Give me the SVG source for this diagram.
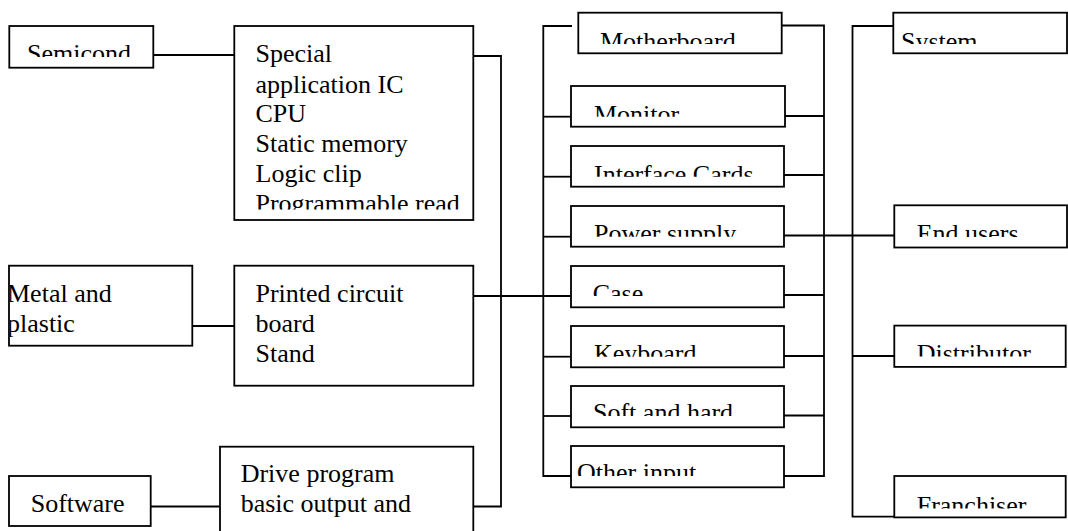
<svg xmlns="http://www.w3.org/2000/svg" width="1068" height="531" viewBox="0 0 1068 531">
<style>
  .box { fill: #fff; stroke: #000; stroke-width: 1.8; }
  .conn { fill: none; stroke: #000; stroke-width: 1.8; }
  text { font-family: "Liberation Serif", "Times New Roman", serif; font-size: 26px; fill: #000; }
</style>
<defs>
  <clipPath id="cSemi"><rect x="9" y="26" width="144" height="31"/></clipPath>
  <clipPath id="cSpec"><rect x="235" y="27" width="238" height="182.5"/></clipPath>
  <clipPath id="cMetal"><rect x="10" y="267" width="182" height="78"/></clipPath>
  <clipPath id="cPcb"><rect x="235" y="267" width="238" height="108"/></clipPath>
  <clipPath id="cSoft"><rect x="10" y="477" width="140" height="48"/></clipPath>
  <clipPath id="cDrive"><rect x="221" y="448" width="252" height="77"/></clipPath>
  <clipPath id="cMb"><rect x="579" y="13" width="202" height="31"/></clipPath>
  <clipPath id="cMon"><rect x="572" y="87" width="212" height="29.7"/></clipPath>
  <clipPath id="cInt"><rect x="572" y="147" width="211" height="29.7"/></clipPath>
  <clipPath id="cPow"><rect x="572" y="207" width="211" height="29.7"/></clipPath>
  <clipPath id="cCase"><rect x="572" y="267" width="211" height="29"/></clipPath>
  <clipPath id="cKey"><rect x="572" y="327" width="211" height="29.7"/></clipPath>
  <clipPath id="cSah"><rect x="572" y="387" width="211" height="29"/></clipPath>
  <clipPath id="cOth"><rect x="572" y="447" width="211" height="29"/></clipPath>
  <clipPath id="cSys"><rect x="894" y="14" width="173" height="30"/></clipPath>
  <clipPath id="cEnd"><rect x="895" y="206" width="172" height="31"/></clipPath>
  <clipPath id="cDis"><rect x="895" y="327" width="170" height="29.6"/></clipPath>
  <clipPath id="cFra"><rect x="895" y="477" width="170" height="31.5"/></clipPath>
</defs>

<g id="connectors">
  <path class="conn" d="M151 55 H234"/>
  <path class="conn" d="M473 56 H501 V506.5 H473"/>
  <path class="conn" d="M192 326 H234"/>
  <path class="conn" d="M473 296 H571"/>
  <path class="conn" d="M151 506.5 H220"/>
  <path class="conn" d="M572 26 H543.3 V476 H571"/>
  <path class="conn" d="M543.3 116.7 H571"/>
  <path class="conn" d="M543.3 176.7 H571"/>
  <path class="conn" d="M543.3 236.7 H571"/>
  <path class="conn" d="M543.3 356.7 H571"/>
  <path class="conn" d="M543.3 416 H571"/>
  <path class="conn" d="M782 25.5 H824 V476 H784"/>
  <path class="conn" d="M783 116 H824"/>
  <path class="conn" d="M784 175 H824"/>
  <path class="conn" d="M784 235.5 H894"/>
  <path class="conn" d="M784 295 H824"/>
  <path class="conn" d="M784 356 H824"/>
  <path class="conn" d="M784 415.5 H824"/>
  <path class="conn" d="M893 26 H852.5 V516.7 H894"/>
  <path class="conn" d="M852.5 356 H894"/>
</g>

<g id="semicond">
  <rect class="box" x="9.3" y="26" width="144" height="41.7"/>
  <text x="27" y="61.5" clip-path="url(#cSemi)">Semicond</text>
</g>
<g id="special">
  <rect class="box" x="234.3" y="26" width="239" height="194"/>
  <g clip-path="url(#cSpec)">
    <text x="255.5" y="62.3">Special</text>
    <text x="255.5" y="92.5">application IC</text>
    <text x="255.5" y="122">CPU</text>
    <text x="255.5" y="152">Static memory</text>
    <text x="255.5" y="181.7">Logic clip</text>
    <text x="255.5" y="211.5">Programmable read</text>
  </g>
</g>
<g id="metal">
  <rect class="box" x="9" y="265.7" width="183.3" height="80"/>
  <g clip-path="url(#cMetal)">
    <text x="7" y="301.5">Metal and</text>
    <text x="7" y="331.7">plastic</text>
  </g>
</g>
<g id="pcb">
  <rect class="box" x="234.3" y="265.7" width="239" height="120"/>
  <g clip-path="url(#cPcb)">
    <text x="255.5" y="301.7">Printed circuit</text>
    <text x="255.5" y="331.7">board</text>
    <text x="255.5" y="361.7">Stand</text>
  </g>
</g>
<g id="software">
  <rect class="box" x="9" y="476" width="141.7" height="50"/>
  <text x="30.7" y="511.7" clip-path="url(#cSoft)">Software</text>
</g>
<g id="drive">
  <rect class="box" x="220" y="446.7" width="253.3" height="95"/>
  <g clip-path="url(#cDrive)">
    <text x="240.7" y="481.7">Drive program</text>
    <text x="240.7" y="511.7">basic output and</text>
  </g>
</g>

<g id="motherboard">
  <rect class="box" x="578.3" y="12.7" width="203.4" height="40.6"/>
  <text x="600" y="49.5" clip-path="url(#cMb)">Motherboard</text>
</g>
<g id="monitor">
  <rect class="box" x="571" y="86" width="214" height="40.7"/>
  <text x="594" y="122.5" clip-path="url(#cMon)">Monitor</text>
</g>
<g id="interface">
  <rect class="box" x="571" y="146" width="213" height="40.7"/>
  <text x="594" y="182.5" clip-path="url(#cInt)">Interface Cards</text>
</g>
<g id="power">
  <rect class="box" x="571" y="206" width="213" height="40.7"/>
  <text x="594" y="242" clip-path="url(#cPow)">Power supply</text>
</g>
<g id="case">
  <rect class="box" x="571" y="266" width="213" height="41.3"/>
  <text x="592.7" y="302" clip-path="url(#cCase)">Case</text>
</g>
<g id="keyboard">
  <rect class="box" x="571" y="326" width="213" height="41.3"/>
  <text x="594" y="362" clip-path="url(#cKey)">Keyboard</text>
</g>
<g id="softhard">
  <rect class="box" x="571" y="386" width="213" height="41.3"/>
  <text x="593" y="420.5" clip-path="url(#cSah)">Soft and hard</text>
</g>
<g id="otherinput">
  <rect class="box" x="571" y="446" width="213" height="41.3"/>
  <text x="577" y="481" clip-path="url(#cOth)">Other input</text>
</g>

<g id="system">
  <rect class="box" x="893.3" y="12.7" width="173.7" height="40.6"/>
  <text x="901" y="49.5" clip-path="url(#cSys)">System</text>
</g>
<g id="endusers">
  <rect class="box" x="894.3" y="205.3" width="172.7" height="42.2"/>
  <text x="916.7" y="242" clip-path="url(#cEnd)">End users</text>
</g>
<g id="distributor">
  <rect class="box" x="894.3" y="325.6" width="171.4" height="41.3"/>
  <text x="916.7" y="362" clip-path="url(#cDis)">Distributor</text>
</g>
<g id="franchiser">
  <rect class="box" x="894.3" y="476" width="171.4" height="41.4"/>
  <text x="916.7" y="513.5" clip-path="url(#cFra)">Franchiser</text>
</g>
</svg>
